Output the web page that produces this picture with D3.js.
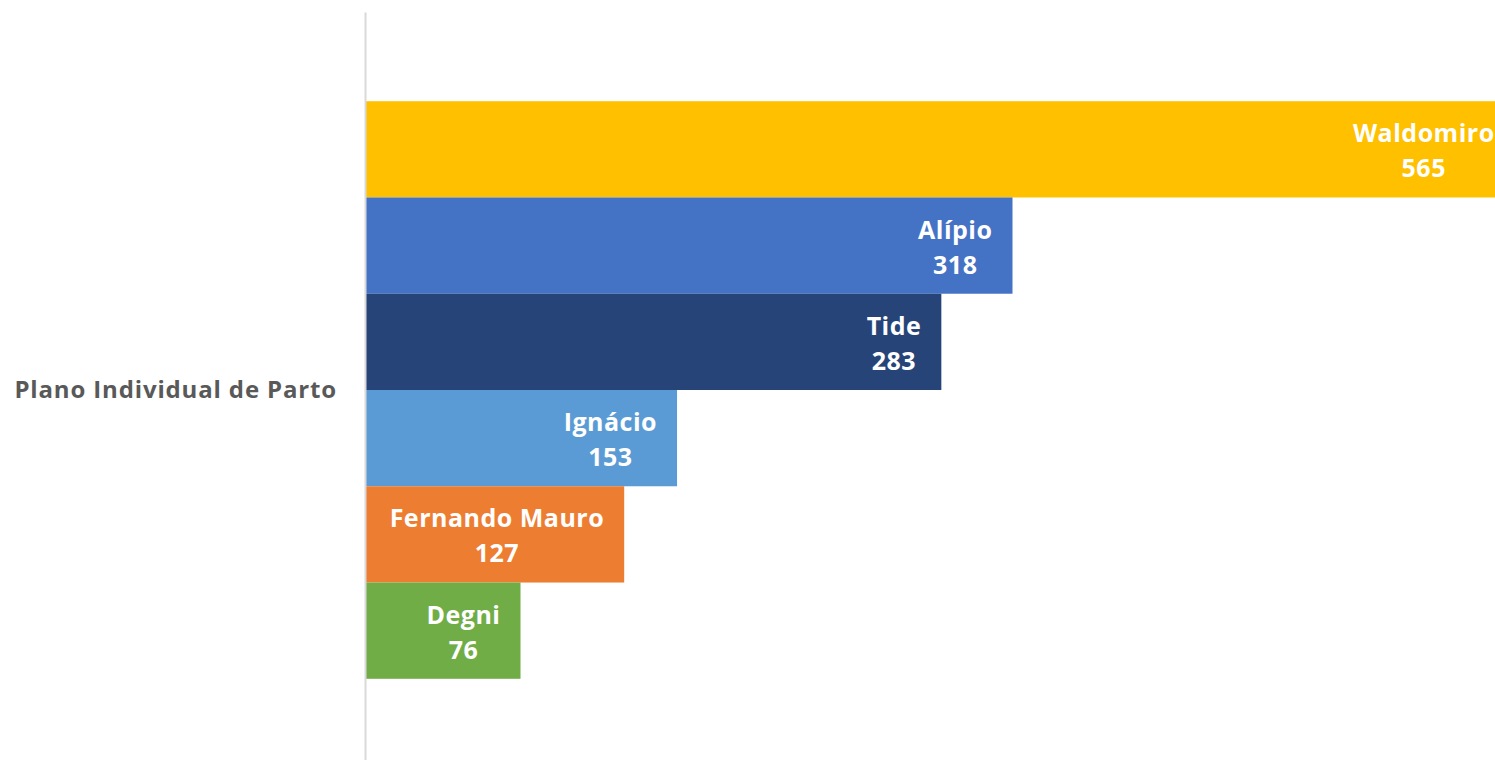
<!DOCTYPE html>
<html>
<head>
<meta charset="utf-8">
<script src="https://cdn.jsdelivr.net/npm/d3@7"></script>
<style>
  body { margin: 0; background: #fff; overflow: hidden; }
  svg { display: block; }
</style>
</head>
<body>
<svg></svg>
<script>
var categories = ["Plano Individual de Parto"]
var seriesNames = ["Waldomiro", "Alípio", "Tide", "Ignácio", "Fernando Mauro", "Degni"]
var seriesValues = [565, 318, 283, 153, 127, 76]
var seriesColors = ["#FFC000", "#4472C4", "#264478", "#5B9BD5", "#ED7D31", "#70AD47"]

var screen = {width: 1495, height: 760}
var font = "'Open Sans', Lato, sans-serif"

var svg = d3.select("svg")
    .attr("width", screen.width)
    .attr("height", screen.height)

// category scale (one band holds all six bars)
var yScale = d3.scaleBand()
    .domain(categories)
    .range([12, 768])
    .paddingInner(0.236)
    .paddingOuter(0.118)

var ySeries = d3.scaleBand()
    .domain(seriesNames)
    .range([0, yScale.bandwidth()])
    .padding(0)

var xScale = d3.scaleLinear()
    .domain([0, 600])
    .range([366, 366 + 600 * 2.033])

var data = seriesNames.map(function(n, i) {
    return {name: n, value: seriesValues[i], color: seriesColors[i]}
})

var groups = svg.append("g")
    .selectAll("g")
    .data(categories)
    .enter()
    .append("g")
    .attr("transform", function(c) { return "translate(0," + yScale(c) + ")" })

groups.selectAll("rect")
    .data(data)
    .enter()
    .append("rect")
    .attr("x", xScale(0))
    .attr("y", function(d) { return ySeries(d.name) })
    .attr("width", function(d) { return xScale(d.value) - xScale(0) })
    .attr("height", ySeries.bandwidth())
    .attr("fill", function(d) { return d.color })

// labels, inside end
var labels = groups.selectAll("g.lbl")
    .data(data)
    .enter()
    .append("g")
    .attr("class", "lbl")
    .style("font-family", font)
    .style("font-weight", "bold")
    .style("font-size", "25px")
    .style("letter-spacing", "0.5px")
    .attr("fill", "#fff")
    .attr("text-anchor", "middle")

labels.append("text")
    .attr("class", "nm")
    .attr("y", function(d) { return ySeries(d.name) + ySeries.bandwidth() / 2 - 7 })
    .text(function(d) { return d.name })

labels.append("text")
    .attr("y", function(d) { return ySeries(d.name) + ySeries.bandwidth() / 2 + 28 })
    .text(function(d) { return d.value })

labels.each(function(d) {
    var g = d3.select(this)
    var w = g.select("text.nm").node().getComputedTextLength()
    var cx = xScale(d.value) - 20 - w / 2
    g.selectAll("text").attr("x", cx)
})

// category axis
var yAxis = d3.axisLeft(yScale)
    .tickSize(0)
    .tickPadding(28)

var ax = svg.append("g")
    .attr("transform", "translate(365,0)")
    .call(yAxis)

ax.select(".domain")
    .attr("stroke", "#d9d9d9")
    .attr("stroke-width", 2)

ax.selectAll("text")
    .style("font-family", font)
    .style("font-weight", "bold")
    .style("font-size", "24px")
    .style("letter-spacing", "0.85px")
    .attr("fill", "#595959")
</script>
</body>
</html>
